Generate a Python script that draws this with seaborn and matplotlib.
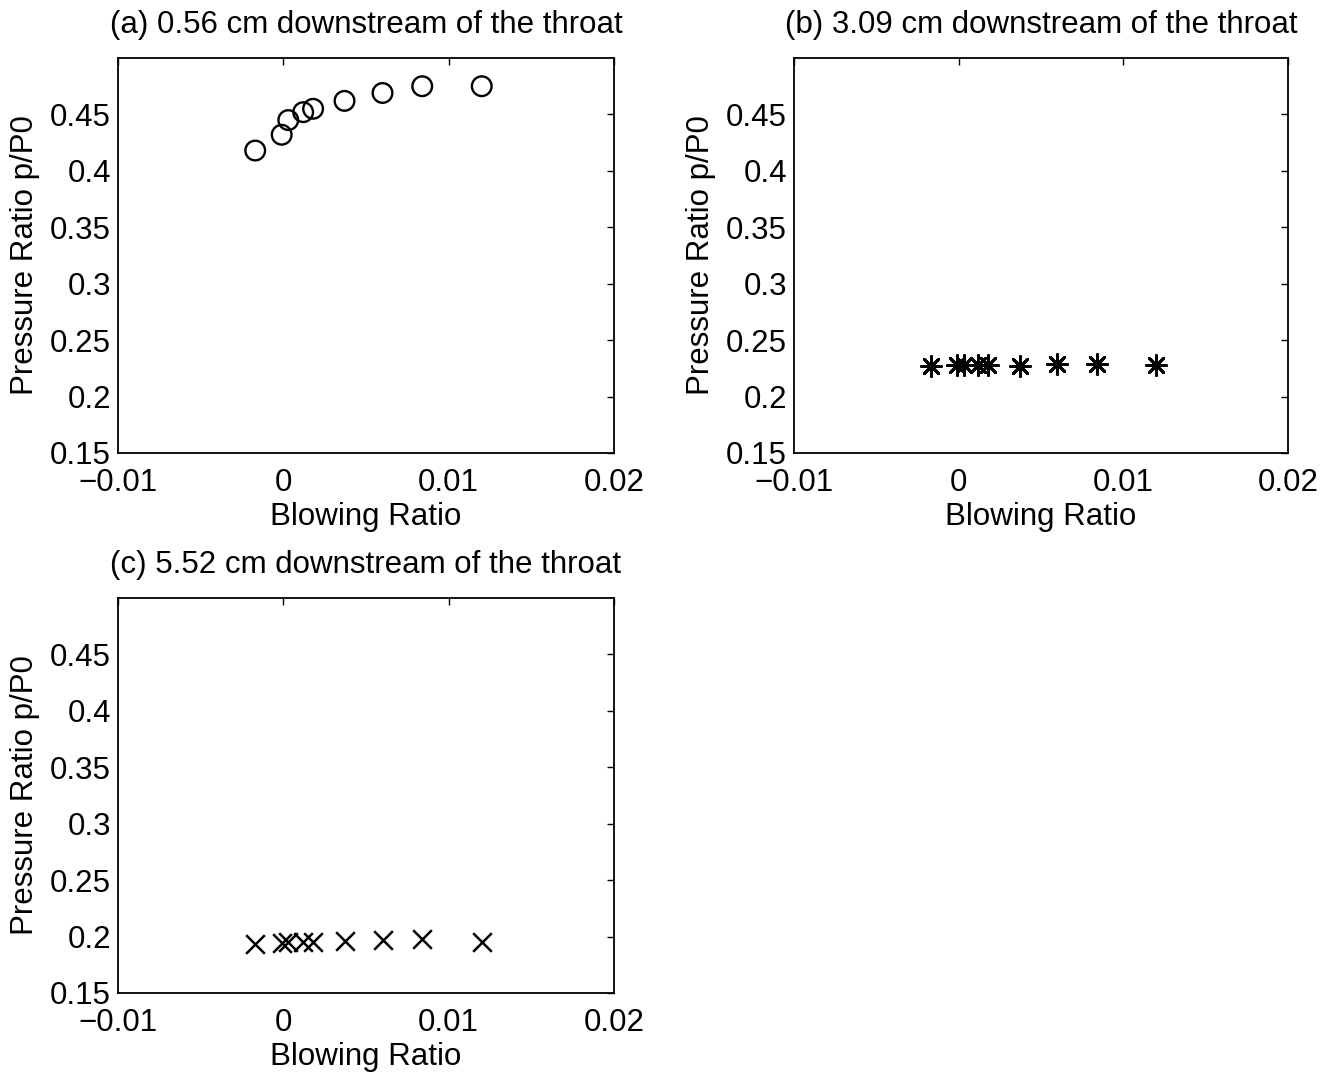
import numpy as np
import pandas as pd
import matplotlib
matplotlib.use("Agg")
import matplotlib.pyplot as plt
import seaborn as sns

# Blowing ratio (same set of runs for every station)
blowing_ratio = [-0.0017, -0.0001, 0.0003, 0.0012, 0.0018, 0.0037, 0.0060, 0.0084, 0.0120]

# Wall pressure ratio p/P0 at three stations downstream of the throat
p_ratio_a = [0.418, 0.432, 0.445, 0.452, 0.455, 0.462, 0.469, 0.475, 0.475]
p_ratio_b = [0.227, 0.228, 0.228, 0.228, 0.228, 0.227, 0.229, 0.229, 0.228]
p_ratio_c = [0.193, 0.194, 0.195, 0.195, 0.195, 0.196, 0.197, 0.198, 0.195]

titles = [
    "(a) 0.56 cm downstream of the throat",
    "(b) 3.09 cm downstream of the throat",
    "(c) 5.52 cm downstream of the throat",
]
x_ticks = [-0.01, 0, 0.01, 0.02]
x_tick_labels = ["\u22120.01", "0", "0.01", "0.02"]
y_ticks = [0.15, 0.2, 0.25, 0.3, 0.35, 0.4, 0.45]
y_tick_labels = ["0.15", "0.2", "0.25", "0.3", "0.35", "0.4", "0.45"]

sns.set_style("white")
plt.rcParams["font.family"] = ["Liberation Sans", "DejaVu Sans"]
plt.rcParams.update({
    "xtick.direction": "in",
    "ytick.direction": "in",
    "xtick.top": True,
    "ytick.right": True,
    "xtick.major.size": 5,
    "ytick.major.size": 5,
    "xtick.major.width": 1.0,
    "ytick.major.width": 1.0,
    "axes.edgecolor": "black",
    "axes.linewidth": 1.3,
    "text.color": "black",
    "axes.labelcolor": "black",
    "xtick.color": "black",
    "ytick.color": "black",
})

FS = 22.5
W, H = 1335, 1072
fig = plt.figure(figsize=(W / 100, H / 100), dpi=100)


def make_axes(left, top, width, height):
    return fig.add_axes([left / W, 1 - (top + height) / H, width / W, height / H])


ax_a = make_axes(118, 58, 496, 395)
ax_b = make_axes(794, 58, 494, 395)
ax_c = make_axes(118, 598, 496, 395)

frames = [
    pd.DataFrame({"br": blowing_ratio, "p": p_ratio_a}),
    pd.DataFrame({"br": blowing_ratio, "p": p_ratio_b}),
    pd.DataFrame({"br": blowing_ratio, "p": p_ratio_c}),
]

sns.scatterplot(data=frames[0], x="br", y="p", ax=ax_a, marker="o", s=200,
                facecolor="none", edgecolor="black", linewidth=1.7)
sns.scatterplot(data=frames[1], x="br", y="p", ax=ax_b, marker=(8, 2, 0), s=210,
                color="black", linewidth=2.0)
sns.scatterplot(data=frames[2], x="br", y="p", ax=ax_c, marker="x", s=180,
                color="black", linewidth=1.8)

for ax, title in zip([ax_a, ax_b, ax_c], titles):
    ax.set_xlim(-0.01, 0.02)
    ax.set_ylim(0.15, 0.5)
    ax.set_xticks(x_ticks)
    ax.set_xticklabels(x_tick_labels, fontsize=FS)
    ax.set_yticks(y_ticks)
    ax.set_yticklabels(y_tick_labels, fontsize=FS)
    ax.tick_params(axis="x", which="both", pad=11)
    ax.tick_params(axis="y", which="both", pad=5)
    ax.set_xlabel("Blowing Ratio", fontsize=FS, labelpad=3)
    ax.set_ylabel("Pressure Ratio p/P0", fontsize=FS, labelpad=7)
    ax.set_title(title, fontsize=FS, pad=18)
    for s in ax.spines.values():
        s.set_visible(True)
        s.set_color("black")

fig.savefig("out.png", dpi=100, facecolor="white")
